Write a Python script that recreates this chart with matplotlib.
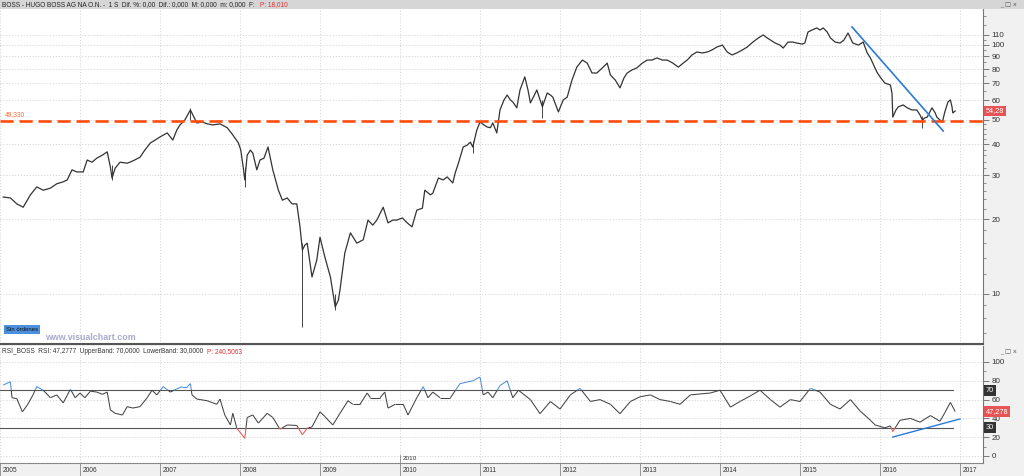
import numpy as np
import matplotlib
matplotlib.use('Agg')
import matplotlib.pyplot as plt
from matplotlib.collections import LineCollection
import matplotlib.transforms as mtransforms
from matplotlib.patches import Rectangle
from matplotlib.ticker import FixedLocator, NullFormatter, FixedFormatter

plt.rcParams['font.family'] = ['Liberation Sans', 'DejaVu Sans']

# ---------------- data ----------------
price_dates = [2005.04, 2005.13, 2005.21, 2005.29, 2005.38, 2005.46, 2005.54, 2005.63, 2005.71, 2005.79,
               2005.84, 2005.90, 2005.96, 2006.04, 2006.09, 2006.15, 2006.21, 2006.28, 2006.34, 2006.38,
               2006.40, 2006.44, 2006.50, 2006.59, 2006.66, 2006.75, 2006.81, 2006.88, 2006.94, 2007.00,
               2007.09, 2007.16, 2007.21, 2007.25, 2007.31, 2007.38, 2007.43, 2007.46, 2007.53, 2007.59,
               2007.66, 2007.75, 2007.84, 2007.91, 2007.98, 2008.01, 2008.04, 2008.06, 2008.09, 2008.13,
               2008.16, 2008.21, 2008.25, 2008.30, 2008.35, 2008.41, 2008.48, 2008.53, 2008.59, 2008.65,
               2008.71, 2008.75, 2008.78, 2008.81, 2008.84, 2008.90, 2008.96, 2009.00, 2009.06, 2009.13,
               2009.19, 2009.23, 2009.25, 2009.31, 2009.38, 2009.46, 2009.54, 2009.60, 2009.66, 2009.71,
               2009.79, 2009.85, 2009.91, 2009.96, 2010.03, 2010.09, 2010.15, 2010.21, 2010.28, 2010.31,
               2010.38, 2010.41, 2010.48, 2010.54, 2010.59, 2010.66, 2010.69, 2010.73, 2010.79, 2010.84,
               2010.88, 2010.91, 2010.96, 2011.00, 2011.05, 2011.09, 2011.13, 2011.16, 2011.21, 2011.25,
               2011.30, 2011.34, 2011.38, 2011.41, 2011.46, 2011.50, 2011.56, 2011.60, 2011.63, 2011.68,
               2011.71, 2011.78, 2011.84, 2011.88, 2011.91, 2011.98, 2012.04, 2012.09, 2012.15, 2012.21,
               2012.28, 2012.34, 2012.40, 2012.46, 2012.53, 2012.59, 2012.63, 2012.69, 2012.75, 2012.80,
               2012.84, 2012.90, 2012.96, 2013.03, 2013.09, 2013.15, 2013.21, 2013.28, 2013.34, 2013.41,
               2013.48, 2013.54, 2013.59, 2013.65, 2013.71, 2013.78, 2013.84, 2013.90, 2013.96, 2014.03,
               2014.09, 2014.15, 2014.21, 2014.28, 2014.34, 2014.41, 2014.48, 2014.54, 2014.59, 2014.63,
               2014.69, 2014.75, 2014.79, 2014.85, 2014.91, 2014.96, 2015.03, 2015.06, 2015.10, 2015.15,
               2015.21, 2015.25, 2015.29, 2015.34, 2015.38, 2015.44, 2015.50, 2015.55, 2015.60, 2015.66,
               2015.73, 2015.79, 2015.84, 2015.88, 2015.91, 2015.96, 2016.00, 2016.06, 2016.13, 2016.15,
               2016.16, 2016.20, 2016.23, 2016.29, 2016.34, 2016.40, 2016.46, 2016.50, 2016.53, 2016.56,
               2016.59, 2016.65, 2016.69, 2016.71, 2016.75, 2016.78, 2016.81, 2016.85, 2016.88, 2016.90,
               2016.91, 2016.94]
price_close = [24.5, 24.3, 23.0, 22.3, 25.0, 26.9, 26.1, 26.6, 27.7, 28.2,
               28.7, 31.5, 30.9, 30.9, 34.5, 33.8, 35.1, 36.1, 37.2, 32.3,
               29.2, 32.0, 33.8, 33.5, 34.2, 35.4, 37.8, 40.4, 41.5, 42.7,
               44.3, 41.5, 45.5, 47.7, 49.9, 54.8, 50.9, 48.6, 49.0, 48.2,
               47.7, 48.2, 46.5, 43.5, 40.4, 37.8, 32.3, 28.7, 36.1, 37.8,
               36.8, 31.5, 34.5, 35.1, 38.9, 31.5, 26.1, 23.8, 24.3, 23.0,
               23.0, 18.6, 15.0, 15.7, 16.0, 11.7, 13.7, 16.9, 14.1, 11.7,
               8.87, 9.46, 10.4, 14.6, 17.6, 16.0, 16.5, 19.8, 18.9, 19.8,
               22.3, 19.3, 19.8, 19.8, 20.2, 19.3, 18.6, 21.7, 22.1, 26.1,
               25.0, 25.4, 29.2, 28.7, 29.5, 27.9, 30.6, 33.5, 38.9, 39.6,
               40.7, 38.9, 45.5, 49.0, 47.7, 46.8, 46.5, 48.6, 44.3, 54.8,
               60.1, 62.9, 60.1, 59.0, 55.9, 65.9, 74.4, 65.9, 58.5, 62.9,
               65.9, 56.4, 64.1, 62.9, 61.7, 53.8, 60.1, 61.7, 72.3, 81.4,
               86.9, 84.5, 77.1, 77.1, 80.8, 84.5, 75.7, 72.3, 67.2, 73.7,
               77.1, 79.3, 80.8, 84.5, 86.9, 86.9, 88.6, 86.9, 86.9, 84.5,
               81.4, 84.5, 86.9, 91.1, 93.6, 92.8, 93.6, 95.4, 98.0, 99.8,
               93.6, 91.1, 92.8, 95.4, 98.0, 102.6, 106.6, 109.6, 106.6, 104.6,
               101.7, 99.8, 97.1, 102.6, 102.6, 101.7, 100.7, 101.7, 112.6, 114.7,
               116.9, 114.7, 116.9, 112.6, 106.6, 102.6, 101.7, 104.6, 111.6, 101.7,
               99.8, 102.6, 92.8, 88.6, 84.5, 77.9, 74.4, 70.3, 69.0, 63.9,
               51.3, 54.8, 56.4, 57.4, 55.9, 54.8, 54.8, 52.3, 49.9, 50.9,
               51.3, 55.9, 53.3, 51.3, 49.9, 49.0, 53.8, 59.0, 60.1, 56.4,
               53.3, 54.28]

wick_dates = [2006.40, 2007.38, 2008.06, 2008.78, 2009.19, 2010.91, 2011.78, 2016.53]
wick_lows = [28.7, 50.0, 26.9, 7.37, 8.6, 36.8, 50.9, 46.5]
wick_highs = [33.0, 55.8, 32.3, 16.0, 10.0, 41.0, 60.0, 52.0]

rsi_dates = [2005.04, 2005.13, 2005.15, 2005.21, 2005.28, 2005.34, 2005.41, 2005.46, 2005.54, 2005.63,
             2005.71, 2005.79, 2005.88, 2005.94, 2006.00, 2006.06, 2006.13, 2006.21, 2006.28, 2006.34,
             2006.38, 2006.44, 2006.53, 2006.59, 2006.66, 2006.75, 2006.84, 2006.90, 2006.96, 2007.04,
             2007.13, 2007.21, 2007.28, 2007.34, 2007.38, 2007.40, 2007.46, 2007.59, 2007.71, 2007.75,
             2007.81, 2007.88, 2007.91, 2007.96, 2008.06, 2008.09, 2008.16, 2008.23, 2008.34, 2008.41,
             2008.50, 2008.59, 2008.71, 2008.78, 2008.84, 2008.90, 2009.00, 2009.06, 2009.16, 2009.25,
             2009.35, 2009.41, 2009.50, 2009.59, 2009.63, 2009.75, 2009.81, 2009.85, 2009.94, 2010.04,
             2010.10, 2010.21, 2010.29, 2010.35, 2010.41, 2010.50, 2010.63, 2010.75, 2010.84, 2010.91,
             2011.00, 2011.04, 2011.10, 2011.16, 2011.25, 2011.34, 2011.41, 2011.48, 2011.63, 2011.75,
             2011.88, 2012.00, 2012.13, 2012.25, 2012.38, 2012.50, 2012.63, 2012.75, 2012.88, 2013.00,
             2013.13, 2013.25, 2013.38, 2013.50, 2013.63, 2013.75, 2013.88, 2014.00, 2014.13, 2014.25,
             2014.38, 2014.50, 2014.63, 2014.75, 2014.88, 2015.00, 2015.13, 2015.25, 2015.38, 2015.50,
             2015.63, 2015.75, 2015.88, 2015.94, 2016.06, 2016.13, 2016.16, 2016.25, 2016.38, 2016.50,
             2016.63, 2016.75, 2016.81, 2016.88, 2016.94]
rsi_values = [75.5, 79.0, 62.0, 61.0, 47.0, 54.0, 64.6, 73.8, 70.0, 62.0,
              65.0, 56.5, 71.0, 62.0, 67.0, 62.0, 69.0, 68.0, 65.6, 68.0,
              49.0, 45.4, 43.6, 52.5, 51.0, 52.5, 62.0, 70.0, 65.0, 73.8,
              68.0, 71.5, 73.8, 73.8, 77.0, 65.0, 60.6, 58.8, 55.0, 60.6,
              43.6, 33.0, 45.4, 29.6, 18.8, 41.0, 43.6, 35.0, 45.4, 41.0,
              28.5, 33.0, 32.5, 22.6, 29.6, 31.0, 47.0, 42.0, 33.0, 45.4,
              58.8, 55.0, 55.0, 67.0, 62.0, 62.0, 68.0, 51.0, 55.0, 55.0,
              43.6, 62.0, 73.8, 62.0, 68.0, 62.0, 62.0, 77.0, 78.7, 80.0,
              84.0, 65.0, 68.0, 62.0, 75.0, 80.0, 62.0, 70.0, 60.0, 45.0,
              58.0, 50.0, 65.0, 72.0, 58.0, 60.0, 55.0, 45.0, 58.0, 63.0,
              65.0, 60.0, 58.0, 55.0, 65.0, 66.0, 67.0, 70.0, 52.0, 58.0,
              64.0, 70.0, 60.0, 52.0, 60.0, 58.0, 72.0, 68.0, 55.0, 50.0,
              60.0, 48.0, 38.0, 33.0, 30.0, 32.0, 26.0, 38.0, 40.0, 36.0,
              43.0, 37.0, 46.0, 57.0, 47.28]

support_level = 49.33
last_price = 54.28
last_rsi = 47.278
rsi_upper = 70
rsi_lower = 30
trend_price_dates = [2015.65, 2016.79]
trend_price_values = [118.0, 45.1]
trend_rsi_dates = [2016.16, 2017.0]
trend_rsi_values = [20.2, 39.4]
years = list(range(2005, 2018))
price_ticks = [10, 20, 30, 40, 50, 60, 70, 80, 90, 100, 110]
price_minor = [7, 8, 9, 12, 14, 16, 18, 22, 24, 26, 28, 32, 34, 36, 38, 42, 44, 46, 48,
               55, 65, 75, 85, 95, 105, 120, 130]
rsi_ticks = [0, 20, 40, 60, 80, 100]
rsi_minor = [10, 30, 50, 70, 90]

# ---------------- layout ----------------
W, H = 1024, 476
fig = plt.figure(figsize=(W / 100, H / 100), dpi=100, facecolor='#f1f1f1')


def rect(x0, y0, x1, y1):
    return [x0 / W, 1 - y1 / H, (x1 - x0) / W, (y1 - y0) / H]


def fy(py):
    return 1 - py / H


# title bar
fig.patches.append(Rectangle((0, fy(9)), 1, 9 / H, transform=fig.transFigure,
                             facecolor='#d6d6d6', edgecolor='none', zorder=0))
t_title = fig.text(2 / W, fy(4.6),
                   'BOSS - HUGO BOSS AG NA O.N. -  1 S  Dif. %: 0,00  Dif.: 0,000  M: 0,000  m: 0,000  F:',
                   fontsize=4.7, color='#222222', va='center', ha='left')
fig.texts.append(None) if False else None
fig.add_artist(matplotlib.text.Annotation('P: 18,010', xy=(1, 0.5), xycoords=t_title,
                                          xytext=(4, 0), textcoords='offset points',
                                          fontsize=4.7, color='#e03030', va='center', ha='left'))
fig.text(1000 / W, fy(4.8), '_ □ x', fontsize=4.5, color='#555555', va='center', ha='left',
         family=['DejaVu Sans'])

xmin, xmax = 2005.0, 2005 + 983 / 80

# ---------------- price panel ----------------
ax1 = fig.add_axes(rect(0, 9, 983, 344))
ax1.set_facecolor('white')
ax1.set_yscale('log')
ax1.set_xlim(xmin, xmax)
ax1.set_ylim(10 * np.exp(-(344 - 294) / 108.2), 10 * np.exp((294 - 9) / 108.2))
ax1.yaxis.set_major_locator(FixedLocator(price_ticks))
ax1.yaxis.set_major_formatter(FixedFormatter([str(v) for v in price_ticks]))
ax1.yaxis.set_minor_locator(FixedLocator(price_minor))
ax1.yaxis.set_minor_formatter(NullFormatter())
ax1.yaxis.tick_right()
ax1.tick_params(axis='y', which='major', direction='out', length=4, width=0.6, color='#666666',
                labelsize=5.8, labelcolor='#333333', pad=2)
ax1.tick_params(axis='y', which='minor', direction='out', length=2.5, width=0.5, color='#666666')
ax1.set_xticks(years)
ax1.tick_params(axis='x', length=0, labelbottom=False)
ax1.grid(True, which='major', color='#d4d4d4', linestyle=(0, (1.5, 2)), linewidth=0.6)
for s in ['left', 'top']:
    ax1.spines[s].set_visible(False)
ax1.spines['right'].set_color('#777777')
ax1.spines['right'].set_linewidth(0.8)
ax1.spines['bottom'].set_color('#555555')
ax1.spines['bottom'].set_linewidth(1.5)

ax1.axhline(support_level, color='#ff4d0d', lw=1.9, linestyle=(0, (5, 2.2)), zorder=3)
ax1.text(2005.06, support_level * 1.035, '49,330', fontsize=4.8, color='#ff6a3a', ha='left', va='bottom')
ax1.vlines(wick_dates, wick_lows, wick_highs, color='#444444', lw=0.7, zorder=2)
ax1.plot(price_dates, price_close, color='#333333', lw=0.9, zorder=2)
ax1.plot(trend_price_dates, trend_price_values, color='#2b7ad6', lw=1.2, zorder=4)

tr1 = mtransforms.blended_transform_factory(ax1.transAxes, ax1.transData)
ax1.text(1.003, last_price, '54,28', transform=tr1, fontsize=5.3, color='white', ha='left', va='center',
         bbox=dict(boxstyle='square,pad=0.25', facecolor='#e85454', edgecolor='none'), zorder=6, clip_on=False)

fig.text(6 / W, fy(329.5), 'Sin órdenes', fontsize=4.3, color='#111111', ha='left', va='center',
         bbox=dict(boxstyle='square,pad=0.3', facecolor='#4a90dd', edgecolor='none'))
fig.text(45 / W, fy(338), 'www.visualchart.com', fontsize=6.4, color='#a9a9cc', fontweight='bold',
         ha='left', va='center')

# ---------------- RSI panel ----------------
ax2 = fig.add_axes(rect(0, 346, 983, 463))
ax2.set_facecolor('white')
ax2.set_xlim(xmin, xmax)
ax2.set_ylim(-(463 - 456) / 0.94, 100 + (362 - 346) / 0.94)
ax2.yaxis.set_major_locator(FixedLocator(rsi_ticks))
ax2.yaxis.set_minor_locator(FixedLocator(rsi_minor))
ax2.yaxis.set_minor_formatter(NullFormatter())
ax2.yaxis.tick_right()
ax2.tick_params(axis='y', which='major', direction='out', length=4, width=0.6, color='#666666',
                labelsize=5.8, labelcolor='#333333', pad=2)
ax2.tick_params(axis='y', which='minor', direction='out', length=2.5, width=0.5, color='#666666')
ax2.set_xticks(years)
ax2.tick_params(axis='x', direction='out', length=10, width=0.6, color='#888888', labelbottom=False)
ax2.grid(True, which='major', color='#d4d4d4', linestyle=(0, (1.5, 2)), linewidth=0.6)
for s in ['left', 'top']:
    ax2.spines[s].set_visible(False)
ax2.spines['right'].set_color('#777777')
ax2.spines['right'].set_linewidth(0.8)
ax2.spines['bottom'].set_color('#888888')
ax2.spines['bottom'].set_linewidth(0.8)

ax2.plot([xmin, 2016.91], [rsi_upper, rsi_upper], color='#555555', lw=0.8, zorder=2)
ax2.plot([xmin, 2016.91], [rsi_lower, rsi_lower], color='#555555', lw=0.8, zorder=2)


def colored_segments(xs, ys, lo, hi):
    segs, cols = [], []
    for i in range(len(xs) - 1):
        x0, y0, x1, y1 = xs[i], ys[i], xs[i + 1], ys[i + 1]
        pts = [(x0, y0)]
        ths = [t for t in (lo, hi) if min(y0, y1) < t < max(y0, y1)]
        ths = sorted(ths, reverse=(y1 < y0))
        for t in ths:
            f = (t - y0) / (y1 - y0)
            pts.append((x0 + f * (x1 - x0), t))
        pts.append((x1, y1))
        for a, b in zip(pts[:-1], pts[1:]):
            m = (a[1] + b[1]) / 2
            cols.append('#4f8fd6' if m > hi else ('#e8564a' if m < lo else '#444444'))
            segs.append([a, b])
    return segs, cols


segs, cols = colored_segments(rsi_dates, rsi_values, rsi_lower, rsi_upper)
ax2.add_collection(LineCollection(segs, colors=cols, linewidths=0.75, zorder=3))
ax2.plot(trend_rsi_dates, trend_rsi_values, color='#2b7ad6', lw=1.0, zorder=4)

t_rsi = ax2.text(0.002, 111.5, 'RSI_BOSS  RSI: 47,2777  UpperBand: 70,0000  LowerBand: 30,0000',
                 transform=mtransforms.blended_transform_factory(ax2.transAxes, ax2.transData),
                 fontsize=4.7, color='#333333', ha='left', va='center')
ax2.annotate('P: 240,5063', xy=(1, 0.5), xycoords=t_rsi, xytext=(3, 0), textcoords='offset points',
             fontsize=4.7, color='#e03030', ha='left', va='center')
fig.text(1000 / W, fy(352), '_ □ x', fontsize=4.5, color='#555555', va='center', ha='left',
         family=['DejaVu Sans'])

tr2 = mtransforms.blended_transform_factory(ax2.transAxes, ax2.transData)
ax2.text(1.003, rsi_upper, '70', transform=tr2, fontsize=5.3, color='white', ha='left', va='center',
         bbox=dict(boxstyle='square,pad=0.25', facecolor='#333333', edgecolor='none'), zorder=6, clip_on=False)
ax2.text(1.003, rsi_lower, '30', transform=tr2, fontsize=5.3, color='white', ha='left', va='center',
         bbox=dict(boxstyle='square,pad=0.25', facecolor='#333333', edgecolor='none'), zorder=6, clip_on=False)
ax2.text(1.003, last_rsi, '47,278', transform=tr2, fontsize=5.3, color='white', ha='left', va='center',
         bbox=dict(boxstyle='square,pad=0.25', facecolor='#e85454', edgecolor='none'), zorder=6, clip_on=False)

# 2010 marker inside RSI panel
ax2.plot([2010, 2010], [-7.4, 1.5], color='#888888', lw=0.6)
ax2.text(2010.03, -3, '2010', fontsize=4.6, color='#333333', ha='left', va='center')

# year labels along the bottom
trx = mtransforms.blended_transform_factory(ax2.transData, fig.transFigure)
for yr in years:
    ax2.text(yr + 0.03, fy(470), str(yr), transform=trx, fontsize=4.8, color='#333333',
             ha='left', va='center', clip_on=False)

fig.savefig('out.png', dpi=100, facecolor=fig.get_facecolor())
